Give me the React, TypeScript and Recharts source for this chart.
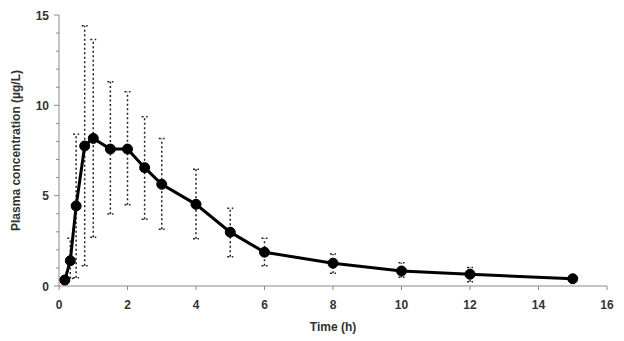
import { ErrorBar, Label, Line, LineChart, XAxis, YAxis } from 'recharts'

// Mean plasma concentration over time, with asymmetric (low / high) error bars
const TIME = [0.17, 0.33, 0.5, 0.75, 1, 1.5, 2, 2.5, 3, 4, 5, 6, 8, 10, 12, 15]
const MEAN = [0.33, 1.4, 4.43, 7.75, 8.17, 7.58, 7.58, 6.55, 5.63, 4.52, 2.98, 1.87, 1.26, 0.83, 0.65, 0.4]
const UPPER = [0.55, 2.64, 8.4, 14.4, 13.65, 11.3, 10.75, 9.37, 8.17, 6.46, 4.3, 2.64, 1.77, 1.29, 1.03, 0.55]
const LOWER = [0.1, 0.42, 0.45, 1.12, 2.7, 3.98, 4.5, 3.7, 3.14, 2.62, 1.62, 1.12, 0.7, 0.48, 0.24, 0.25]

const X_TICKS = [0, 2, 4, 6, 8, 10, 12, 14, 16]
const Y_TICKS = [0, 1, 2, 3, 4, 5, 6, 7, 8, 9, 10, 11, 12, 13, 14, 15]

const FONT = '"Liberation Sans", Arial, sans-serif'
const AXIS = '#8a8a8a'
const TEXT = '#333'

const data = TIME.map((t, i) => ({
  t,
  mean: MEAN[i],
  err: [MEAN[i] - LOWER[i], UPPER[i] - MEAN[i]],
}))

function YTick(props: { x?: number; y?: number; payload?: { value: number } }) {
  const { x = 0, y = 0, payload } = props
  const v = payload?.value ?? 0
  const major = v % 5 === 0
  return (
    <g>
      <line x1={x - (major ? 5 : 3)} x2={x} y1={y} y2={y} stroke={AXIS} strokeWidth={1} />
      {major && (
        <text
          x={x - 10}
          y={y}
          dy={4.5}
          textAnchor="end"
          fill={TEXT}
          fontSize={12}
          fontWeight="bold"
          fontFamily={FONT}
        >
          {v}
        </text>
      )}
    </g>
  )
}

export default function App() {
  return (
    <div style={{ position: 'absolute', left: 0, top: 0, background: '#fff' }}>
      <LineChart
        width={624}
        height={341}
        data={data}
        margin={{ top: 15, right: 17, bottom: 5, left: 0 }}
      >
        <XAxis
          type="number"
          dataKey="t"
          domain={[0, 16]}
          ticks={X_TICKS}
          interval={0}
          stroke={AXIS}
          tickSize={4}
          tickMargin={10}
          tick={{ fill: TEXT, fontSize: 12, fontWeight: 'bold', fontFamily: FONT }}
          height={50}
        >
          <Label
            value="Time (h)"
            position="insideBottom"
            offset={5}
            fill={TEXT}
            fontSize={12}
            fontWeight="bold"
            fontFamily={FONT}
          />
        </XAxis>
        <YAxis
          type="number"
          domain={[0, 15]}
          ticks={Y_TICKS}
          interval={0}
          width={59}
          stroke={AXIS}
          tickLine={false}
          tickSize={0}
          tickMargin={0}
          tick={(p: any) => <YTick {...p} />}
        >
          <Label
            value="Plasma concentration (µg/L)"
            angle={-90}
            position="insideLeft"
            offset={16}
            fill={TEXT}
            fontSize={12}
            fontWeight="bold"
            fontFamily={FONT}
            style={{ textAnchor: 'middle' }}
          />
        </YAxis>
        <Line
          type="linear"
          dataKey="mean"
          stroke="#000"
          strokeWidth={3}
          dot={{ r: 5, fill: '#000', stroke: '#000', strokeWidth: 1 }}
          isAnimationActive={false}
        >
          <ErrorBar
            dataKey="err"
            direction="y"
            width={3}
            stroke="#222"
            strokeWidth={1.5}
            strokeDasharray="2 2.5"
          />
        </Line>
      </LineChart>
    </div>
  )
}
